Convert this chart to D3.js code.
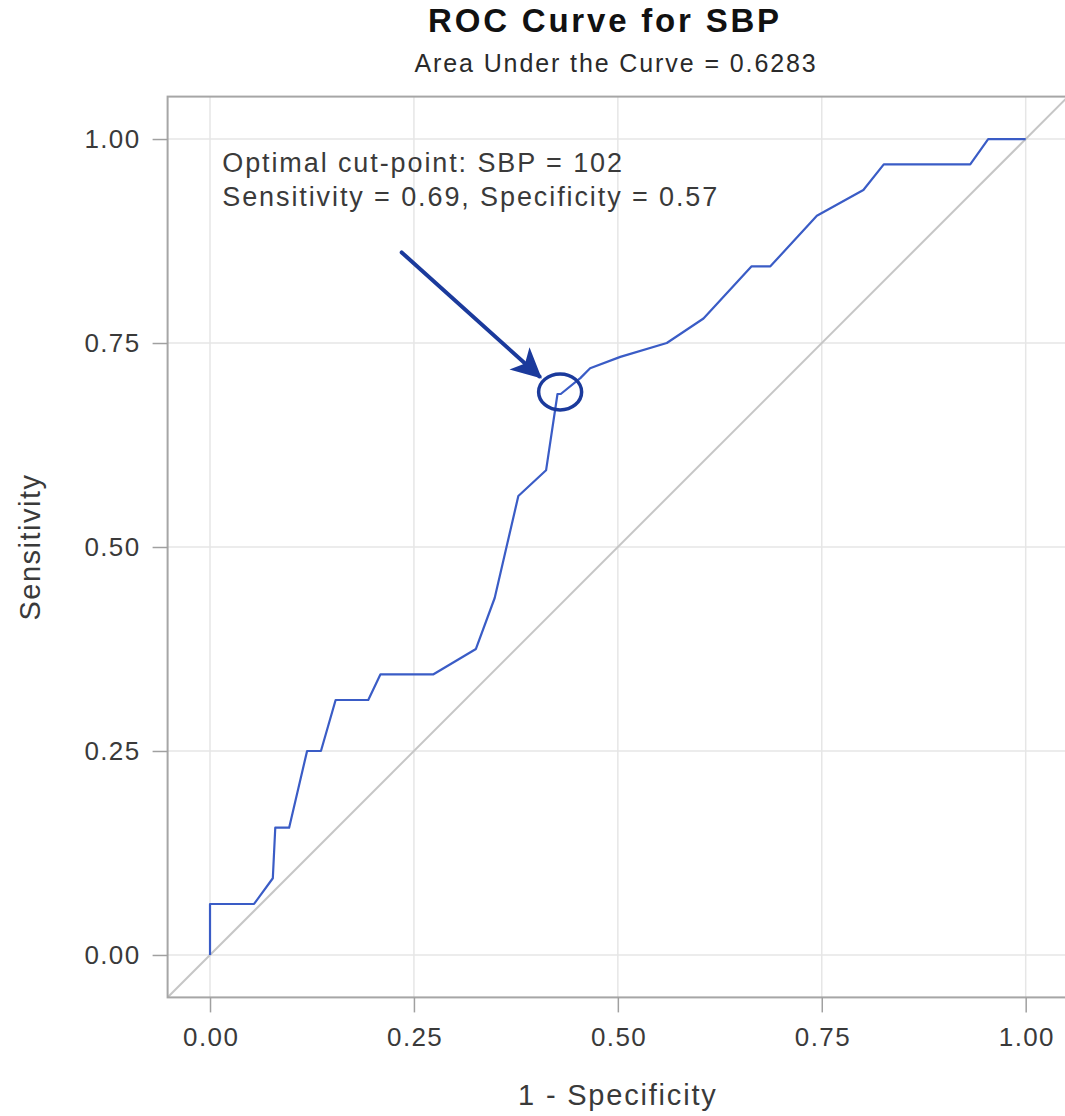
<!DOCTYPE html>
<html>
<head>
<meta charset="utf-8">
<script src="https://cdn.jsdelivr.net/npm/d3@7"></script>
<style>
  body { margin: 0; background: #fff; }
  svg text { font-family: "Liberation Sans", Arial, sans-serif; }
</style>
</head>
<body>
<svg width="1065" height="1116"></svg>
<script>
let svg = d3.select("svg"),
    width = +svg.attr("width"),
    height = +svg.attr("height");

// ROC points: 1 - specificity, sensitivity
let fpr = [0, 0, 0.054, 0.077, 0.080, 0.097, 0.119, 0.136, 0.154, 0.194, 0.209, 0.274,
           0.326, 0.349, 0.378, 0.412, 0.426, 0.430, 0.454, 0.466, 0.503, 0.560, 0.605,
           0.664, 0.687, 0.744, 0.801, 0.826, 0.932, 0.954, 1.0];
let tpr = [0, 0.0625, 0.0625, 0.094, 0.156, 0.156, 0.25, 0.25, 0.3125, 0.3125, 0.344, 0.344,
           0.375, 0.4375, 0.5625, 0.594, 0.6875, 0.6875, 0.707, 0.719, 0.733, 0.75, 0.78,
           0.844, 0.844, 0.906, 0.9375, 0.969, 0.969, 1.0, 1.0];

let xTicks = [0, 0.25, 0.5, 0.75, 1];
let yTicks = [0, 0.25, 0.5, 0.75, 1];

let titleText = "ROC Curve for SBP";
let subtitleText = "Area Under the Curve = 0.6283";
let xLabel = "1 - Specificity";
let yLabel = "Sensitivity";
let noteLines = ["Optimal cut-point: SBP = 102", "Sensitivity = 0.69, Specificity = 0.57"];

// optimal cut-point and the arrow pointing to it (data units)
let cutPoint = [0.428, 0.69];
let arrowFrom = [0.235, 0.861];
let arrowTo = [0.404, 0.709];

let curveColor = "#3a5cc6";
let noteColor = "#1b3a9c";
let textColor = "#3a3a3a";

let margin = {left: 167.6, top: 96.6};
let plotW = 900.5, plotH = 900.8;

let x = d3.scaleLinear().domain([-0.052, 1.052]).range([0, plotW]);
let y = d3.scaleLinear().domain([-0.052, 1.052]).range([plotH, 0]);

let defs = svg.append("defs");
defs.append("clipPath").attr("id", "clip")
    .append("rect").attr("width", plotW).attr("height", plotH);

defs.append("marker")
        .attr("id", "arrow")
        .attr("viewBox", "0 -5 10 10")
        .attr("refX", 9)
        .attr("refY", 0)
        .attr("markerWidth", 9)
        .attr("markerHeight", 7.5)
        .attr("markerUnits", "strokeWidth")
        .attr("orient", "auto")
    .append("path")
        .attr("d", "M0,-5L10,0L0,5L2.5,0Z")
        .attr("fill", noteColor);

let g = svg.append("g")
    .attr("transform", "translate(" + margin.left + "," + margin.top + ")");

// grid
let grid = g.append("g").attr("class", "grid");
grid.selectAll("line.gx").data(xTicks).enter().append("line")
    .attr("x1", d => x(d)).attr("x2", d => x(d))
    .attr("y1", 0).attr("y2", plotH)
    .attr("stroke", "#e6e6e6").attr("stroke-width", 1.5);
grid.selectAll("line.gy").data(yTicks).enter().append("line")
    .attr("y1", d => y(d)).attr("y2", d => y(d))
    .attr("x1", 0).attr("x2", plotW)
    .attr("stroke", "#e6e6e6").attr("stroke-width", 1.5);

let plot = g.append("g").attr("clip-path", "url(#clip)");

// chance diagonal
plot.append("line")
    .attr("x1", x(-0.06)).attr("y1", y(-0.06))
    .attr("x2", x(1.06)).attr("y2", y(1.06))
    .attr("stroke", "#c6c6c6").attr("stroke-width", 2);

let pts = fpr.map((v, i) => [v, tpr[i]]);
let line = d3.line().x(d => x(d[0])).y(d => y(d[1]));

plot.append("path")
    .datum(pts)
    .attr("d", line)
    .attr("fill", "none")
    .attr("stroke", curveColor)
    .attr("stroke-width", 2.2)
    .attr("stroke-linejoin", "round");

// annotation
g.append("ellipse")
    .attr("cx", x(cutPoint[0]) + 1)
    .attr("cy", y(cutPoint[1]))
    .attr("rx", 21.5).attr("ry", 18)
    .attr("fill", "none")
    .attr("stroke", noteColor)
    .attr("stroke-width", 3.5);

g.append("line")
    .attr("x1", x(arrowFrom[0])).attr("y1", y(arrowFrom[1]))
    .attr("x2", x(arrowTo[0])).attr("y2", y(arrowTo[1]))
    .attr("stroke", noteColor)
    .attr("stroke-width", 4)
    .attr("stroke-linecap", "round")
    .attr("marker-end", "url(#arrow)");

g.append("text")
    .attr("x", x(0.015))
    .attr("y", y(1) + 33)
    .attr("fill", textColor)
    .style("font-size", "27px")
    .style("letter-spacing", "1.9px")
    .selectAll("tspan").data(noteLines).enter().append("tspan")
        .attr("x", x(0.015))
        .attr("dy", (d, i) => i ? 34 : 0)
        .text(d => d);

// frame
g.append("rect")
    .attr("width", plotW).attr("height", plotH)
    .attr("fill", "none")
    .attr("stroke", "#a6a6a6").attr("stroke-width", 2);

// axes
let xAxis = g.append("g")
    .attr("transform", "translate(0," + plotH + ")")
    .call(d3.axisBottom(x).tickValues(xTicks).tickFormat(d3.format(".2f"))
          .tickSize(15).tickPadding(15));
let yAxis = g.append("g")
    .call(d3.axisLeft(y).tickValues(yTicks).tickFormat(d3.format(".2f"))
          .tickSize(15).tickPadding(12));

[xAxis, yAxis].forEach(a => {
    a.select(".domain").remove();
    a.selectAll(".tick line").attr("stroke", "#a0a0a0").attr("stroke-width", 1.5);
    a.selectAll(".tick text")
        .attr("fill", textColor)
        .style("font-size", "26px")
        .style("letter-spacing", "1.4px")
        .style("font-family", "'Liberation Sans', Arial, sans-serif");
});
xAxis.selectAll(".tick text").attr("dx", "0.7px");

// axis labels
svg.append("text")
    .attr("x", margin.left + x(0.5))
    .attr("y", 1105)
    .attr("text-anchor", "middle")
    .attr("fill", textColor)
    .style("font-size", "29px")
    .style("letter-spacing", "1.8px")
    .text(xLabel);

svg.append("text")
    .attr("transform", "translate(40," + (margin.top + y(0.5)) + ") rotate(-90)")
    .attr("text-anchor", "middle")
    .attr("fill", textColor)
    .style("font-size", "29px")
    .style("letter-spacing", "1.5px")
    .text(yLabel);

// titles
svg.append("text")
    .attr("x", 605)
    .attr("y", 32)
    .attr("text-anchor", "middle")
    .attr("fill", "#111")
    .style("font-size", "33px")
    .style("font-weight", "bold")
    .style("letter-spacing", "2.8px")
    .text(titleText);

svg.append("text")
    .attr("x", 616)
    .attr("y", 72)
    .attr("text-anchor", "middle")
    .attr("fill", "#2a2a2a")
    .style("font-size", "25px")
    .style("letter-spacing", "1.9px")
    .text(subtitleText);
</script>
</body>
</html>
